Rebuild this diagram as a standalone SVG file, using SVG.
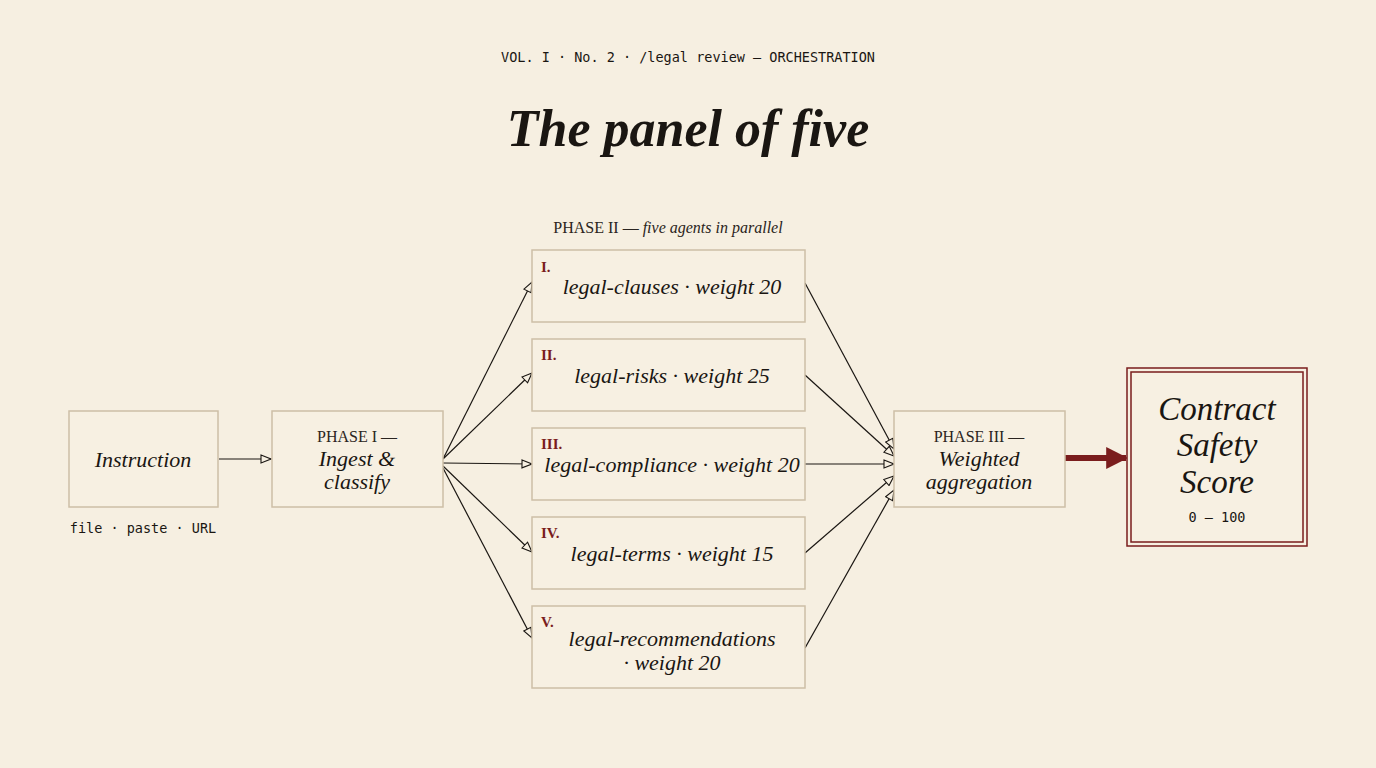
<svg xmlns="http://www.w3.org/2000/svg" width="1376" height="768" viewBox="0 0 1376 768">
<style>
.box{fill:#f7f0e2;stroke:#cdbfa6;stroke-width:1.5}
.t{font-family:"Liberation Serif",serif;font-style:italic;fill:#1a1612;text-anchor:middle}
.s{font-family:"Liberation Serif",serif;fill:#2a2420;text-anchor:middle;font-size:16px}
.m{font-family:"DejaVu Sans Mono","Liberation Mono",monospace;fill:#1a1612;font-size:13.5px}
.n{font-family:"Liberation Serif",serif;font-weight:bold;fill:#7a1d1d;font-size:15px}
.c{stroke:#1a1612;stroke-width:1.2;fill:none;marker-end:url(#a)}
</style>
<defs>
<marker id="a" viewBox="0 0 12 10" refX="11" refY="5" markerWidth="12" markerHeight="10" markerUnits="userSpaceOnUse" orient="auto"><path d="M1,1 L11,5 L1,9 Z" fill="#f7f0e2" stroke="#1a1612" stroke-width="1.1"/></marker>
<marker id="r" viewBox="0 0 10 10" refX="9" refY="5" markerWidth="22" markerHeight="24" markerUnits="userSpaceOnUse" orient="auto"><path d="M0,0 L10,5 L0,10 Z" fill="#7a1d1d"/></marker>
</defs>
<rect width="1376" height="768" fill="#f6efe1"/>
<text x="688" y="62" class="m" text-anchor="middle" font-size="12">VOL. I · No. 2 · /legal review — ORCHESTRATION</text>
<text x="688" y="146" class="t" font-size="52" font-weight="bold">The panel of five</text>
<text x="668" y="233" class="s">PHASE II — <tspan font-style="italic">five agents in parallel</tspan></text>
<g id="connectors">
<line x1="219" y1="459" x2="271" y2="459" class="c"/>
<line x1="443" y1="459" x2="532" y2="282" class="c"/>
<line x1="443" y1="459" x2="532" y2="373" class="c"/>
<line x1="443" y1="463" x2="532" y2="464" class="c"/>
<line x1="443" y1="466" x2="532" y2="552" class="c"/>
<line x1="443" y1="468" x2="532" y2="638" class="c"/>
<line x1="805" y1="283" x2="894" y2="449" class="c"/>
<line x1="805" y1="375" x2="894" y2="456" class="c"/>
<line x1="805" y1="464" x2="894" y2="464" class="c"/>
<line x1="805" y1="553" x2="894" y2="476" class="c"/>
<line x1="805" y1="648" x2="894" y2="490" class="c"/>
<line x1="1065" y1="458" x2="1126" y2="458" stroke="#7a1d1d" stroke-width="6" marker-end="url(#r)"/>
</g>
<g id="instruction"><rect x="69" y="411" width="149" height="96" class="box"/><text x="143" y="467" class="t" font-size="22">Instruction</text>
<text x="143" y="533" class="m" text-anchor="middle">file · paste · URL</text></g>
<g id="phase1"><rect x="272" y="411" width="171" height="96" class="box"/><text x="357" y="442" class="s">PHASE I —</text><text x="357" y="466" class="t" font-size="22">Ingest &amp;</text><text x="357" y="489" class="t" font-size="22">classify</text></g>
<g id="a1"><rect x="532" y="250" width="273" height="72" class="box"/><text x="541" y="272" class="n">I.</text><text x="672" y="294" class="t" font-size="22">legal-clauses · weight 20</text></g>
<g id="a2"><rect x="532" y="339" width="273" height="72" class="box"/><text x="541" y="360" class="n">II.</text><text x="672" y="383" class="t" font-size="22">legal-risks · weight 25</text></g>
<g id="a3"><rect x="532" y="428" width="273" height="72" class="box"/><text x="541" y="449" class="n">III.</text><text x="672" y="472" class="t" font-size="22">legal-compliance · weight 20</text></g>
<g id="a4"><rect x="532" y="517" width="273" height="72" class="box"/><text x="541" y="538" class="n">IV.</text><text x="672" y="561" class="t" font-size="22">legal-terms · weight 15</text></g>
<g id="a5"><rect x="532" y="606" width="273" height="82" class="box"/><text x="541" y="627" class="n">V.</text><text x="672" y="646" class="t" font-size="22">legal-recommendations</text><text x="672" y="670" class="t" font-size="22">· weight 20</text></g>
<g id="phase3"><rect x="894" y="411" width="171" height="96" class="box"/><text x="979" y="442" class="s">PHASE III —</text><text x="979" y="466" class="t" font-size="22">Weighted</text><text x="979" y="489" class="t" font-size="22">aggregation</text></g>
<g id="score"><rect x="1127" y="368" width="180" height="178" fill="#f7f0e2" stroke="#7a1d1d" stroke-width="1.5"/><rect x="1131" y="372" width="172" height="170" fill="none" stroke="#7a1d1d" stroke-width="1.5"/>
<text x="1217" y="420" class="t" font-size="33">Contract</text><text x="1217" y="456" class="t" font-size="33">Safety</text><text x="1217" y="493" class="t" font-size="33">Score</text>
<text x="1217" y="522" class="m" text-anchor="middle">0 – 100</text></g>
</svg>
